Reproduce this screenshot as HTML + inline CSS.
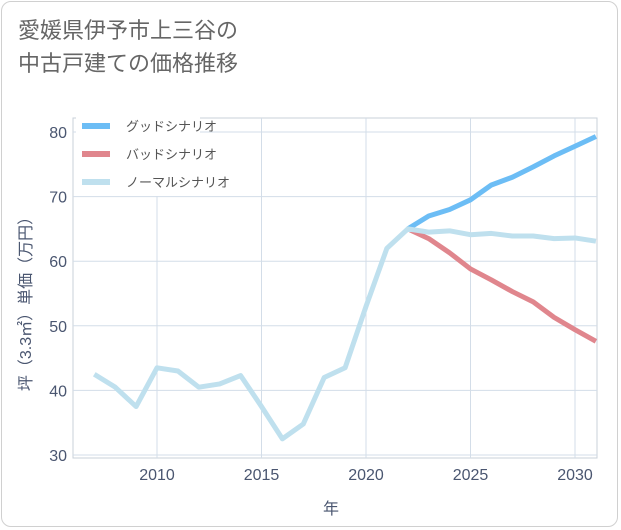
<!DOCTYPE html>
<html><head><meta charset="utf-8"><style>
body{margin:0;background:#fff;}
#wrap{position:relative;width:621px;height:530px;overflow:hidden;font-family:"Liberation Sans","Noto Sans CJK JP",sans-serif;}
#frame{position:absolute;left:1px;top:1px;width:617px;height:526px;border:1px solid #d0d0d0;border-radius:10px;box-sizing:border-box;}
#title{position:absolute;left:18px;top:14px;font-size:22px;line-height:33px;color:#666;}
</style></head><body>
<div id="wrap">
<div id="frame"></div>
<div id="title">愛媛県伊予市上三谷の<br>中古戸建ての価格推移</div>
<svg id="chart" width="621" height="530" style="position:absolute;left:0;top:0"></svg>
</div>
<script>
const years=[2007,2008,2009,2010,2011,2012,2013,2014,2015,2016,2017,2018,2019,2020,2021,2022,2023,2024,2025,2026,2027,2028,2029,2030,2031];
const normalVals=[42.5,40.5,37.5,43.5,43,40.5,41,42.3,37.5,32.5,34.8,42,43.5,53,62,65,64.5,64.7,64.1,64.3,63.9,63.9,63.5,63.6,63.1];
const futureYears=[2022,2023,2024,2025,2026,2027,2028,2029,2030,2031];
const goodVals=[65,67,68,69.5,71.8,73,74.6,76.3,77.8,79.3];
const badVals=[65,63.5,61.3,58.8,57.1,55.3,53.7,51.3,49.4,47.6];
const xTicks=[2010,2015,2020,2025,2030];
const yTicks=[30,40,50,60,70,80];
const legendLabels=["グッドシナリオ","バッドシナリオ","ノーマルシナリオ"];
const colors=["#6cbdf5","#e0868d","#bfe0ee"];

const NS="http://www.w3.org/2000/svg";
const svg=document.getElementById('chart');
const L=73,R=597,T=118,B=458;
const x=v=>157+(v-2010)*(575-157)/20;
const y=v=>455-(v-30)*(455-132)/50;
function mk(tag,attrs,parent){const e=document.createElementNS(NS,tag);for(const k in attrs)e.setAttribute(k,attrs[k]);(parent||svg).appendChild(e);return e;}

const bg=mk('rect',{x:L,y:T,width:R-L,height:B-T,fill:'#fff',stroke:'#c8d0da'});


xTicks.forEach(t=>{
  const g=mk('line',{x1:x(t),x2:x(t),y1:T,y2:B,stroke:'#d3dde8','stroke-width':1});
  
  
  const tx=mk('text',{x:x(t),y:480,'text-anchor':'middle','font-size':16,fill:'#4a5670'});
  tx.textContent=t;
  
  
});
yTicks.forEach(t=>{
  const g=mk('line',{x1:L,x2:R,y1:y(t),y2:y(t),stroke:'#d3dde8','stroke-width':1});
  
  
  const tx=mk('text',{x:67,y:y(t)+6,'text-anchor':'end','font-size':16,fill:'#4a5670'});
  tx.textContent=t;
  
  
});
const xt=mk('text',{x:331,y:514,'text-anchor':'middle','font-size':16,fill:'#4a5670'});
xt.textContent='年';


const yt=mk('text',{x:0,y:0,'text-anchor':'middle','font-size':16,fill:'#4a5670',transform:'translate(31,300) rotate(-90)'});
yt.textContent='坪（3.3㎡）単価（万円）';



function line(xs,vs,c,name){
  const p=mk('polyline',{points:xs.map((v,i)=>x(v)+','+y(vs[i])).join(' '),fill:'none',stroke:c,'stroke-width':5,'stroke-linejoin':'round'});
  
  
}
line(futureYears,badVals,colors[1],'bad-scenario-line');
line(futureYears,goodVals,colors[0],'good-scenario-line');
line(years,normalVals,colors[2],'normal-scenario-line');

const lb=mk('rect',{x:76,y:114,width:124,height:82,fill:'#fff'});


legendLabels.forEach((lab,i)=>{
  const yy=126+i*28;
  const l=mk('line',{x1:82,x2:110,y1:yy,y2:yy,stroke:colors[i],'stroke-width':6});
  
  
  const t=mk('text',{x:126,y:yy+5,'font-size':13,fill:'#555'});
  t.textContent=lab;
  
  
});
</script>
</body></html>
